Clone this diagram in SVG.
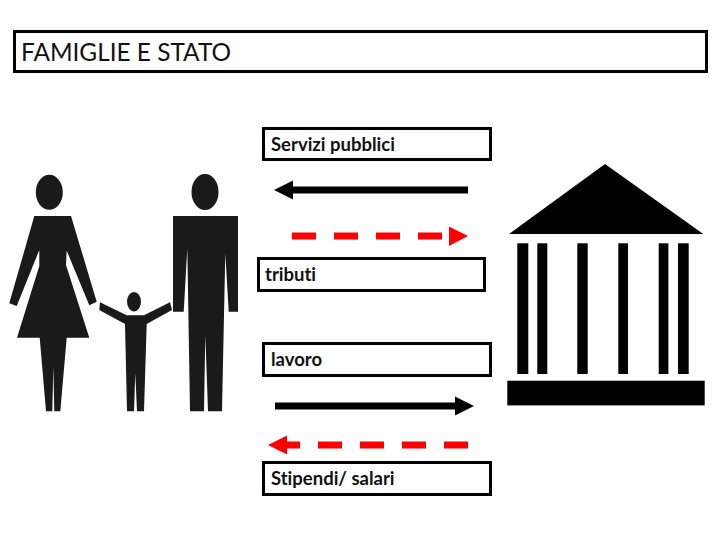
<svg xmlns="http://www.w3.org/2000/svg" width="720" height="540" viewBox="0 0 720 540">
<style>
.box{fill:#fff;stroke:#000;stroke-width:3}
.lbl{font-family:"Lato","Open Sans","Liberation Sans",sans-serif;font-size:18.5px;font-weight:700;fill:#111;font-variant-ligatures:none}
.title{font-family:"Lato","Open Sans","Liberation Sans",sans-serif;font-size:24.4px;fill:#111;font-variant-ligatures:none}
.fig{fill:#1a1a1a}
.solid{fill:none;stroke:#000;stroke-width:7}
.dash{fill:none;stroke:#f00;stroke-width:7;stroke-dasharray:24 18}
</style>
<defs>
<marker id="hb" markerUnits="userSpaceOnUse" markerWidth="20" markerHeight="20" refX="0" refY="10" orient="auto"><path d="M0 0.500L19 10L0 19.500Z" fill="#000"/></marker>
<marker id="hr" markerUnits="userSpaceOnUse" markerWidth="20" markerHeight="20" refX="0" refY="10" orient="auto"><path d="M0 0.500L19 10L0 19.500Z" fill="#f00"/></marker>
</defs>
<rect width="720" height="540" fill="#fff"/>
<g id="title"><rect class="box" x="14.500" y="31.500" width="692" height="40"/><text class="title" x="21" y="61">FAMIGLIE E STATO</text></g>
<g id="servizi"><rect class="box" x="263.500" y="128.500" width="227" height="31"/><text class="lbl" x="271" y="151">Servizi pubblici</text></g>
<g id="tributi"><rect class="box" x="258.500" y="258.500" width="226" height="32"/><text class="lbl" x="265" y="281">tributi</text></g>
<g id="lavoro"><rect class="box" x="263.500" y="343.500" width="227" height="32"/><text class="lbl" x="271" y="366">lavoro</text></g>
<g id="stipendi"><rect class="box" x="263.500" y="462.500" width="227" height="32"/><text class="lbl" x="271" y="485">Stipendi/ salari</text></g>
<g id="connectors">
<path class="solid" d="M468 190H293" marker-end="url(#hb)"/>
<path class="dash" d="M292 236H442"/>
<path d="M449 226.500L468 236L449 246Z" fill="#f00"/>
<path class="solid" d="M275 406H455" marker-end="url(#hb)"/>
<path class="dash" d="M468 445H287" marker-end="url(#hr)"/>
</g>
<g id="famiglia">
<ellipse class="fig" cx="49.300" cy="192.300" rx="13.500" ry="17.500"/>
<path class="fig" d="M34.300 216H71L96.700 301.700L89.300 305.300L66.700 250.700L66 265L89.300 337.700H66.700L60.300 411.300H54.300L53.300 366.700L52.300 411.300H46L39.700 337.700H17L39.300 266L39.300 250L16.700 306L9.300 303.300Z"/>
<ellipse class="fig" cx="205" cy="192" rx="13.500" ry="18"/>
<path class="fig" d="M173 216H238V311.700H228.700L225.300 253.300L222 411.300H208L205.300 335L204 411.300H190L187.300 248.300L183.700 311.700H173Z"/>
<ellipse class="fig" cx="134" cy="301.700" rx="7" ry="9.700"/>
<path class="fig" d="M126.700 315.300H144L170 302.300L172 310L146.700 324L144 411.300H137L135.300 373.300L134 411.300H127L125 324L99.300 310L100 302.300Z"/>
</g>
<g id="stato" fill="#000">
<path d="M605 164L703.300 234H509Z"/>
<rect x="517.300" y="243.300" width="11" height="130.700"/>
<rect x="537.300" y="243.300" width="10" height="130.700"/>
<rect x="577.300" y="243.300" width="10.400" height="130.700"/>
<rect x="618.300" y="243.300" width="9.700" height="130.700"/>
<rect x="658.700" y="243.300" width="9.700" height="130.700"/>
<rect x="678" y="243.300" width="10.700" height="130.700"/>
<rect x="507.300" y="380.700" width="197.400" height="24.700"/>
</g>
</svg>
